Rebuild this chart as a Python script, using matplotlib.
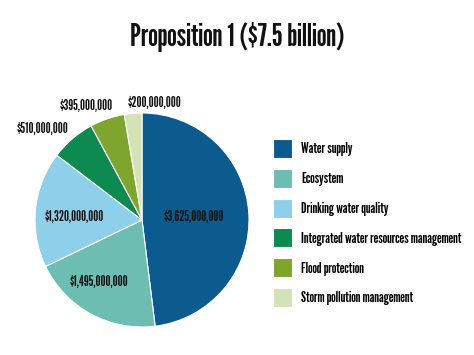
import numpy as np
import matplotlib
matplotlib.use('Agg')
import matplotlib.pyplot as plt

# %% data
categories = ['Water supply', 'Ecosystem', 'Drinking water quality',
              'Integrated water resources management', 'Flood protection',
              'Storm pollution management']
amounts = [3625000000, 1495000000, 1320000000, 510000000, 395000000, 200000000]
colours = ['#0b5b8e', '#6dbdb3', '#8ecfea', '#0c8a4f', '#7ea62f', '#d4e3b7']
title = 'Proposition 1 ($7.5 billion)'

# label placement per wedge: (radius, angle nudge in degrees)
label_pos = [(0.49, 0), (0.70, -6), (0.63, 3), (1.26, 7), (1.18, 7), (1.10, -11)]

plt.rcParams['font.family'] = ['League Gothic', 'Oswald', 'DejaVu Sans']

px = 1/100
fig = plt.figure(figsize=(474*px, 355*px), dpi=100)
ax = fig.add_axes([35/474, 28/355, 214/474, 214/355])

wedges, _ = ax.pie(amounts, colors=colours, startangle=90, counterclock=False,
                   wedgeprops=dict(edgecolor='white', linewidth=0.8))
ax.set_xlim(-1, 1)
ax.set_ylim(-1, 1)
ax.set_aspect('equal')
ax.set_axis_off()

for w, val, (r, dth) in zip(wedges, amounts, label_pos):
    mid = np.deg2rad((w.theta1 + w.theta2)/2 + dth)
    ax.text(r*np.cos(mid), r*np.sin(mid), f"${val:,}", ha='center', va='center',
            fontsize=10.2, color='#111111', clip_on=False)

fig.text(0.5, 1-37/355, title, ha='center', va='center', fontsize=22.5, color='#111111')

fig.legend(wedges, categories, loc='upper left', bbox_to_anchor=(273/474, 1-139/355),
           frameon=False, fontsize=10.8, handlelength=1.28, handleheight=1.585,
           labelspacing=0.71, handletextpad=0.6, borderpad=0, borderaxespad=0)

fig.savefig('out.png', dpi=100)
